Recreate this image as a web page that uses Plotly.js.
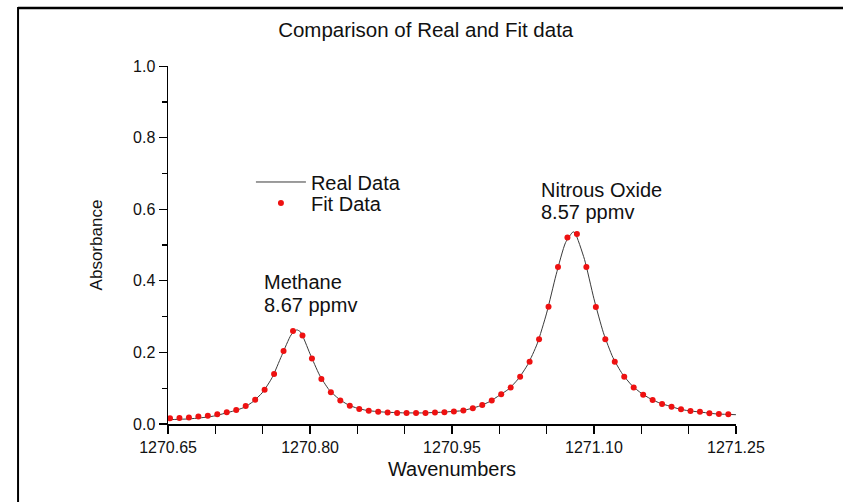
<!DOCTYPE html>
<html>
<head>
<meta charset="utf-8">
<script src="https://cdn.plot.ly/plotly-3.0.1.min.js"></script>
<style>
  html, body { margin: 0; padding: 0; background: #ffffff; }
  #chart { width: 843px; height: 502px; }
</style>
</head>
<body>
<div id="chart"></div>
<script>
// Measured spectrum (continuous trace)
const realWavenumbers = [
  1270.650, 1270.660, 1270.670, 1270.680, 1270.690, 1270.700, 1270.710, 1270.720,
  1270.730, 1270.740, 1270.750, 1270.760, 1270.770, 1270.780, 1270.786, 1270.790,
  1270.800, 1270.810, 1270.820, 1270.830, 1270.840, 1270.850, 1270.860, 1270.870,
  1270.880, 1270.890, 1270.900, 1270.910, 1270.920, 1270.930, 1270.940, 1270.950,
  1270.960, 1270.970, 1270.980, 1270.990, 1271.000, 1271.010, 1271.020, 1271.030,
  1271.040, 1271.050, 1271.060, 1271.070, 1271.078, 1271.080, 1271.090, 1271.100,
  1271.110, 1271.120, 1271.130, 1271.140, 1271.150, 1271.160, 1271.170, 1271.180,
  1271.190, 1271.200, 1271.210, 1271.220, 1271.230, 1271.240, 1271.250
];
const realAbsorbance = [
  0.012, 0.013, 0.014, 0.016, 0.019, 0.023, 0.030, 0.037,
  0.046, 0.063, 0.089, 0.130, 0.191, 0.249, 0.263, 0.257,
  0.196, 0.137, 0.096, 0.071, 0.054, 0.044, 0.038, 0.035,
  0.033, 0.032, 0.031, 0.031, 0.031, 0.032, 0.033, 0.035,
  0.037, 0.043, 0.051, 0.063, 0.080, 0.098, 0.126, 0.166,
  0.224, 0.310, 0.417, 0.507, 0.537, 0.534, 0.460, 0.350,
  0.255, 0.186, 0.140, 0.108, 0.086, 0.070, 0.058, 0.050,
  0.042, 0.037, 0.034, 0.031, 0.028, 0.027, 0.026
];

// Fitted model, sampled every 0.01 cm-1
const fitWavenumbers = [
  1270.652, 1270.662, 1270.672, 1270.682, 1270.692, 1270.702, 1270.712, 1270.722, 1270.732, 1270.742,
  1270.752, 1270.762, 1270.772, 1270.782, 1270.792, 1270.802, 1270.812, 1270.822, 1270.832, 1270.842,
  1270.852, 1270.862, 1270.872, 1270.882, 1270.892, 1270.902, 1270.912, 1270.922, 1270.932, 1270.942,
  1270.952, 1270.962, 1270.972, 1270.982, 1270.992, 1271.002, 1271.012, 1271.022, 1271.032, 1271.042,
  1271.052, 1271.062, 1271.072, 1271.082, 1271.092, 1271.102, 1271.112, 1271.122, 1271.132, 1271.142,
  1271.152, 1271.162, 1271.172, 1271.182, 1271.192, 1271.202, 1271.212, 1271.222, 1271.232, 1271.242
];
const fitAbsorbance = [
  0.016, 0.017, 0.018, 0.021, 0.023, 0.027, 0.033, 0.039, 0.050, 0.068,
  0.096, 0.140, 0.204, 0.260, 0.247, 0.183, 0.126, 0.089, 0.066, 0.051,
  0.042, 0.037, 0.034, 0.032, 0.031, 0.031, 0.031, 0.031, 0.032, 0.033,
  0.035, 0.038, 0.044, 0.053, 0.066, 0.083, 0.102, 0.132, 0.174, 0.237,
  0.328, 0.439, 0.521, 0.531, 0.439, 0.327, 0.237, 0.174, 0.132, 0.102,
  0.082, 0.067, 0.056, 0.048, 0.041, 0.036, 0.034, 0.030, 0.028, 0.027
];

// Axis ticks
const xTickValues = [1270.65, 1270.80, 1270.95, 1271.10, 1271.25];
const xTickLabels = ['1270.65', '1270.80', '1270.95', '1271.10', '1271.25'];
const yTickValues = [0.0, 0.2, 0.4, 0.6, 0.8, 1.0];
const yTickLabels = ['0.0', '0.2', '0.4', '0.6', '0.8', '1.0'];

// Peak names and retrieved concentrations
const peakNames = ['Methane', 'Nitrous Oxide'];
const peakConcentrations = ['8.67 ppmv', '8.57 ppmv'];

const FONT = 'Liberation Sans, Arial, Helvetica, sans-serif';
const INK = '#111111';

const traces = [
  {
    x: realWavenumbers, y: realAbsorbance,
    type: 'scatter', mode: 'lines', name: 'Real Data', legend: 'legend',
    line: { color: '#3a3a3a', width: 1, shape: 'spline', smoothing: 0.6 }
  },
  {
    x: fitWavenumbers, y: fitAbsorbance,
    type: 'scatter', mode: 'markers', name: 'Fit Data', legend: 'legend2',
    marker: { color: '#ee1111', size: 6 }
  }
];

// label anchors (wavenumber, absorbance) for name line and concentration line
const labelSpots = [
  { x: 1270.749, yName: 0.397, yConc: 0.333 },
  { x: 1271.042, yName: 0.654, yConc: 0.592 }
];
const annotations = [];
labelSpots.forEach((s, i) => {
  [[s.yName, peakNames[i]], [s.yConc, peakConcentrations[i]]].forEach(([yy, txt]) => {
    annotations.push({
      x: s.x, y: yy, xref: 'x', yref: 'y', text: txt, showarrow: false,
      xanchor: 'left', yanchor: 'middle', align: 'left',
      font: { family: FONT, size: 20, color: INK }
    });
  });
});

const legendStyle = (yy) => ({
  x: 0.146, y: yy, xanchor: 'left', yanchor: 'middle',
  bgcolor: 'rgba(0,0,0,0)', borderwidth: 0,
  font: { family: FONT, size: 20, color: INK },
  itemwidth: 50
});

const layout = {
  width: 843, height: 502,
  margin: { l: 168, r: 107, t: 66, b: 78, pad: 0 },
  paper_bgcolor: '#ffffff', plot_bgcolor: '#ffffff',
  font: { family: FONT, size: 16, color: INK },
  title: {
    text: 'Comparison of Real and Fit data',
    x: 0.505, xref: 'container', xanchor: 'center',
    y: 0.94, yref: 'container', yanchor: 'middle',
    font: { family: FONT, size: 20.5, color: INK }
  },
  showlegend: true,
  legend: legendStyle(0.676),
  legend2: legendStyle(0.617),
  xaxis: {
    range: [1270.6499, 1271.2501], showgrid: false, zeroline: false,
    showline: true, linecolor: '#000000', linewidth: 1.5,
    ticks: 'outside', ticklen: 8, tickwidth: 1.2, tickcolor: '#000000',
    tickmode: 'array', tickvals: xTickValues, ticktext: xTickLabels,
    minor: { dtick: 0.05, tick0: 1270.65, ticks: 'outside', ticklen: 8, tickwidth: 1.2, tickcolor: '#000000', showgrid: false },
    tickfont: { family: FONT, size: 16, color: INK },
    title: { text: 'Wavenumbers', standoff: 7, font: { family: FONT, size: 20, color: INK } },
    automargin: false
  },
  yaxis: {
    range: [0, 1.0005], showgrid: false, zeroline: false,
    showline: true, linecolor: '#000000', linewidth: 1.5,
    ticks: 'outside', ticklen: 8, tickwidth: 1.2, tickcolor: '#000000',
    tickmode: 'array', tickvals: yTickValues, ticktext: yTickLabels,
    minor: { dtick: 0.1, tick0: 0, ticks: 'outside', ticklen: 5, tickwidth: 1.2, tickcolor: '#000000', showgrid: false },
    tickfont: { family: FONT, size: 16, color: INK },
    title: { text: 'Absorbance', standoff: 26, font: { family: FONT, size: 17, color: INK } },
    automargin: false
  },
  annotations: annotations,
  shapes: [
    // outer frame: top and left edges
    { type: 'line', xref: 'paper', yref: 'paper', x0: -0.264, x1: 1.2, y0: 1.162, y1: 1.162, line: { color: '#000000', width: 2.5 } },
    { type: 'line', xref: 'paper', yref: 'paper', x0: -0.264, x1: -0.264, y0: 1.165, y1: -0.25, line: { color: '#000000', width: 2 } }
  ]
};

Plotly.newPlot('chart', traces, layout, { staticPlot: true, displayModeBar: false });
</script>
</body>
</html>
